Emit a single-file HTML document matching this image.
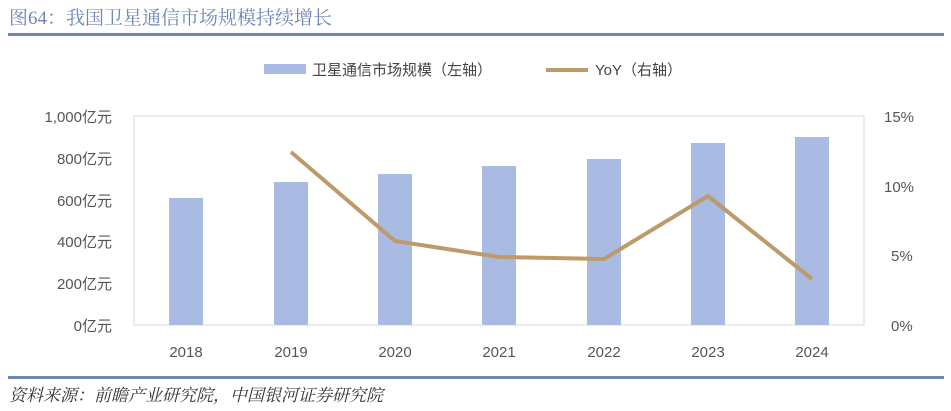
<!DOCTYPE html><html><head><meta charset="utf-8"><style>body{margin:0;background:#fff;width:951px;height:406px;overflow:hidden}</style></head><body>
<svg width="951" height="406" xmlns="http://www.w3.org/2000/svg" font-family="Liberation Sans, Noto Sans CJK SC, sans-serif">
<text x="9" y="24" font-size="19" fill="#6f86b5" font-family="Liberation Serif, Noto Serif CJK SC, serif">图64：我国卫星通信市场规模持续增长</text>
<rect x="8" y="33" width="936" height="3" fill="#6f86b5"/>
<rect x="8" y="376" width="936" height="3" fill="#6f86b5"/>
<text x="9" y="401" font-size="17" fill="#333" font-style="italic" font-family="Liberation Serif, Noto Serif CJK SC, serif">资料来源：前瞻产业研究院，中国银河证券研究院</text>
<rect x="264" y="64" width="42" height="10" fill="#a9bbe3"/>
<text x="312" y="75" font-size="15" fill="#444">卫星通信市场规模（左轴）</text>
<rect x="546" y="68" width="42" height="4" fill="#bd9a6a"/>
<text x="595" y="75" font-size="15" fill="#444">YoY（右轴）</text>
<rect x="134" y="116" width="730" height="209" fill="none" stroke="#d9d9d9" stroke-width="1"/>
<g fill="#a9bbe3">
<rect x="169" y="198" width="34" height="127"/><rect x="274" y="182" width="34" height="143"/><rect x="378" y="174" width="34" height="151"/><rect x="482" y="166" width="34" height="159"/><rect x="587" y="159" width="34" height="166"/><rect x="691" y="143" width="34" height="182"/><rect x="795" y="137" width="34" height="188"/>
</g>
<polyline points="291,152 395,241 499,257 604,259 708,196 812,279" fill="none" stroke="#bd9a6a" stroke-width="4" stroke-linejoin="round"/>
<g font-size="15" fill="#555" text-anchor="end">
<text x="112" y="122">1,000亿元</text><text x="112" y="164">800亿元</text><text x="112" y="206">600亿元</text><text x="112" y="247">400亿元</text><text x="112" y="289">200亿元</text><text x="112" y="331">0亿元</text>
</g>
<g font-size="15" fill="#555" text-anchor="start">
<text x="884" y="122">15%</text><text x="884" y="192">10%</text><text x="891" y="261">5%</text><text x="891" y="331">0%</text>
</g>
<g font-size="15" fill="#555" text-anchor="middle">
<text x="186" y="357">2018</text><text x="291" y="357">2019</text><text x="395" y="357">2020</text><text x="499" y="357">2021</text><text x="604" y="357">2022</text><text x="708" y="357">2023</text><text x="812" y="357">2024</text>
</g>
</svg></body></html>
